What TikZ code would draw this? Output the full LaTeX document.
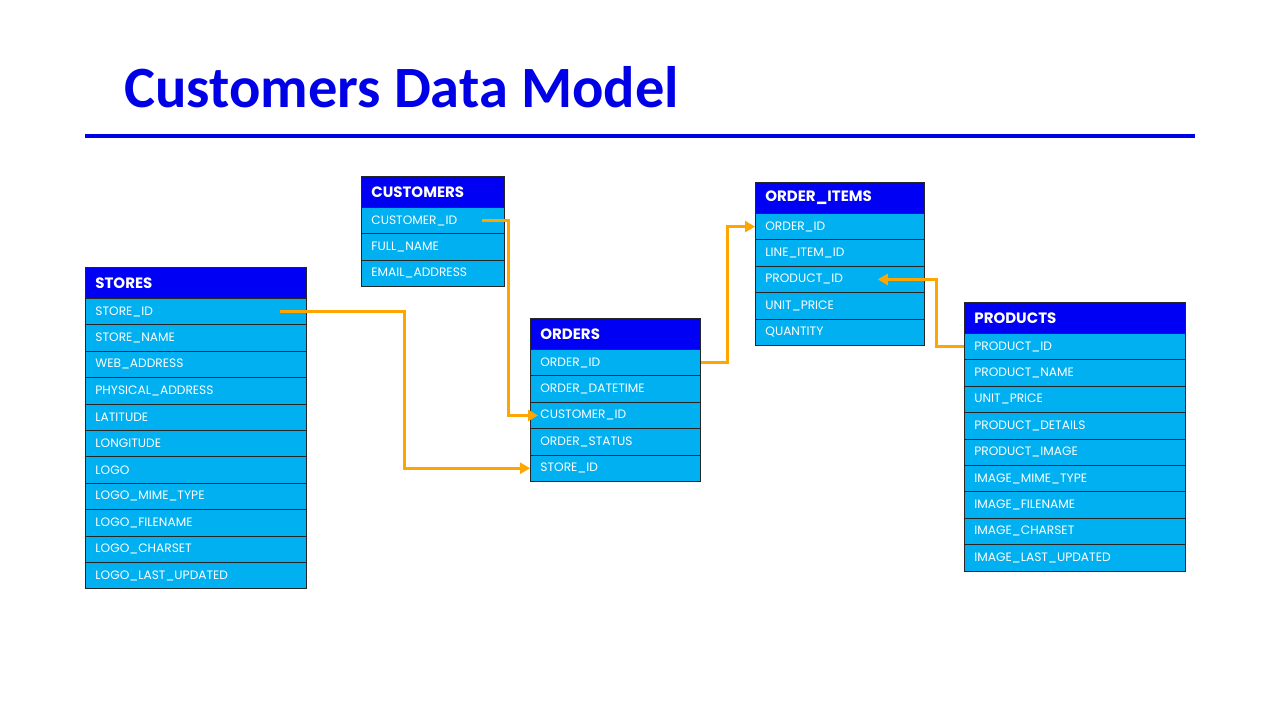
\documentclass[tikz,border=0pt]{standalone}
\usepackage{fontspec}
\setmainfont{Carlito}
\newfontfamily\geo{Poppins}
\usetikzlibrary{arrows.meta,calc}
\definecolor{hdrblue}{RGB}{0,0,245}
\definecolor{rowblue}{RGB}{0,176,240}
\definecolor{titleblue}{RGB}{0,0,230}
\definecolor{linkorange}{RGB}{255,165,0}
\newcommand\ertable[6]{%
  \node[hdr, text width=#4pt-20pt] (#1) at (#2,#3) {#5};
  \foreach \f [count=\i] in {#6} {
    \node[fld, text width=#4pt-20pt] (#1-\i) at (#2,{#3+31+(\i-1)*26.4}) {\f};
  }%
}
\begin{document}
\begin{tikzpicture}[x=1pt,y=-1pt,
  hdr/.style={draw=black!85, line width=0.8pt, fill=hdrblue, text=white,
    font=\geo\bfseries\fontsize{15}{15}\selectfont, anchor=north west,
    minimum height=31pt, inner xsep=10pt, inner ysep=0pt, align=left},
  fld/.style={draw=black!85, line width=0.8pt, fill=rowblue, text=white,
    font=\geo\fontsize{12.2}{12.2}\selectfont, anchor=north west,
    minimum height=26.4pt, inner xsep=10pt, inner ysep=0pt, align=left},
  link/.style={draw=linkorange, line width=3pt},
  linkarrow/.style={link, -{Triangle[length=10pt,width=11pt]}}
]
\useasboundingbox (0,0) rectangle (1280,720);
\node[anchor=base west, text=titleblue, font=\bfseries\fontsize{58.5}{58.5}\selectfont, inner sep=0pt] (title) at (124,107) {Customers Data Model};
\coordinate (rl) at (85,136);
\coordinate (rr) at (1195,136);
\draw[titleblue, line width=4pt] (rl) -- (rr);

\ertable{stores}{85}{267}{221}{STORES}{STORE\_ID,STORE\_NAME,WEB\_ADDRESS,PHYSICAL\_ADDRESS,LATITUDE,LONGITUDE,LOGO,LOGO\_MIME\_TYPE,LOGO\_FILENAME,LOGO\_CHARSET,LOGO\_LAST\_UPDATED}
\ertable{customers}{361}{176}{143}{CUSTOMERS}{CUSTOMER\_ID,FULL\_NAME,EMAIL\_ADDRESS}
\ertable{orders}{530}{318}{170}{ORDERS}{ORDER\_ID,ORDER\_DATETIME,CUSTOMER\_ID,ORDER\_STATUS,STORE\_ID}
\ertable{items}{755}{182}{169}{ORDER\_ITEMS}{ORDER\_ID,LINE\_ITEM\_ID,PRODUCT\_ID,UNIT\_PRICE,QUANTITY}
\ertable{products}{964}{302}{221}{PRODUCTS}{PRODUCT\_ID,PRODUCT\_NAME,UNIT\_PRICE,PRODUCT\_DETAILS,PRODUCT\_IMAGE,IMAGE\_MIME\_TYPE,IMAGE\_FILENAME,IMAGE\_CHARSET,IMAGE\_LAST\_UPDATED}

% connectors
\coordinate (s1) at ($(stores-1.east)+(-27,0)$);
\coordinate (k1) at (404,0);
\draw[linkarrow] (s1) -| (k1 |- orders-5.west) -- (orders-5.west);

\coordinate (c1) at ($(customers-1.east)+(-23,0)$);
\coordinate (k2) at (508,0);
\coordinate (o3) at ($(orders-3.west)+(8,0)$);
\draw[linkarrow] (c1) -| (k2 |- o3) -- (o3);

\coordinate (k3) at (727,0);
\draw[linkarrow] (orders-1.east) -| (k3 |- items-1.west) -- (items-1.west);

\coordinate (k4) at (936,0);
\coordinate (i3) at ($(items-3.east)+(-47,0)$);
\draw[linkarrow] (products-1.west) -| (k4 |- i3) -- (i3);
\end{tikzpicture}
\end{document}
